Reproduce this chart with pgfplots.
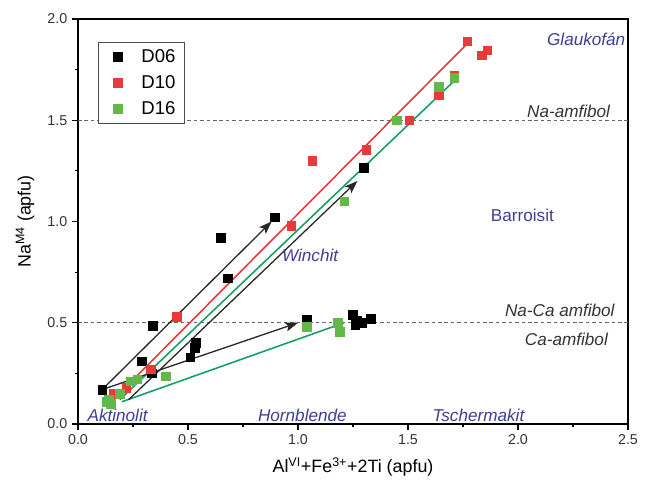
\documentclass[border=0pt]{standalone}
\usepackage{fontspec}
\setmainfont{Liberation Sans}
\usepackage{pgfplots}
\pgfplotsset{compat=1.18}
\usetikzlibrary{arrows.meta}
\definecolor{cred}{RGB}{232,58,58}
\definecolor{cgreen}{RGB}{98,184,72}
\definecolor{lgreen}{RGB}{20,160,95}
\definecolor{lblue}{RGB}{62,62,150}
\begin{document}
\begin{tikzpicture}
\begin{axis}[
  scale only axis, width=385pt, height=283.5pt,
  xmin=0, xmax=2.5, ymin=0, ymax=2.0,
  xtick={0,0.5,...,2.5}, ytick={0,0.5,...,2.0},
  minor x tick num=1, minor y tick num=1,
  tick align=outside, xtick pos=bottom, ytick pos=left,
  major tick length=4pt, minor tick length=2pt,
  axis line style={line width=0.9pt}, tick style={line width=0.8pt, black},
  /pgf/number format/assume math mode=true,
  /pgf/number format/.cd, fixed, fixed zerofill, precision=1, /pgfplots/.cd,
  tick label style={font=\fontsize{10}{12}\selectfont, text=black!80},
  xlabel={Al\textsuperscript{VI}+Fe\textsuperscript{3+}+2Ti (apfu)},
  ylabel={Na\textsuperscript{M4} (apfu)},
  label style={font=\fontsize{12.5}{14}\selectfont},
  xlabel style={at={(axis description cs:0.5,0)}, anchor=center, yshift=-30pt},
  ylabel style={at={(axis description cs:0,0.5)}, anchor=center, yshift=37pt},
  legend style={at={(axis cs:0.09,1.886)}, anchor=north west, draw=black!70, line width=0.6pt,
    font=\fontsize{13}{15}\selectfont, row sep=3.5pt, inner xsep=4pt, inner ysep=3pt},
  legend cell align=left,
  legend image code/.code={\path[draw=none,fill=none] (0,0) -- (0.85cm,0); \draw[#1] plot coordinates {(0.35cm,0cm)};},
  clip=false,
]
% dashed boundaries
\addplot[black!60, line width=0.6pt, dash pattern=on 2.5pt off 2pt, forget plot] coordinates {(0,0.5) (2.5,0.5)};
\addplot[black!60, line width=0.6pt, dash pattern=on 2.5pt off 2pt, forget plot] coordinates {(0,1.5) (2.5,1.5)};
% trend lines
\addplot[cred, line width=1.1pt, forget plot] coordinates {(0.16,0.12) (1.78,1.89)};
\addplot[lgreen, line width=1.1pt, forget plot] coordinates {(0.19,0.12) (1.73,1.715)};
\addplot[lgreen, line width=1.1pt, forget plot] coordinates {(0.2,0.11) (1.21,0.5)};
% arrows
\addplot[black!85, line width=0.9pt, -{Stealth[length=9pt,width=6.5pt,inset=2pt]}, forget plot] coordinates {(0.11,0.17) (0.88,1.0)};
\addplot[black!85, line width=0.9pt, -{Stealth[length=9pt,width=6.5pt,inset=2pt]}, forget plot] coordinates {(0.23,0.12) (1.27,1.2)};
\addplot[black!85, line width=0.9pt, -{Stealth[length=9pt,width=6.5pt,inset=2pt]}, forget plot] coordinates {(0.11,0.17) (1.0,0.5)};
% data
\addplot[only marks, mark=square*, mark size=3pt, black, mark options={fill=black, draw=black}] coordinates {
(0.11,0.17) (0.29,0.31) (0.34,0.485) (0.335,0.25) (0.51,0.33) (0.535,0.40) (0.53,0.375)
(0.65,0.92) (0.68,0.72) (0.895,1.02) (1.04,0.515) (1.25,0.54) (1.26,0.49) (1.27,0.51)
(1.29,0.50) (1.33,0.52) (1.30,1.265)};
\addlegendentry{D06}
\addplot[only marks, mark=square*, mark size=3pt, cred, mark options={fill=cred, draw=cred}] coordinates {
(0.16,0.15) (0.22,0.18) (0.33,0.27) (0.45,0.53) (0.97,0.98) (1.065,1.30) (1.31,1.355)
(1.505,1.50) (1.64,1.625) (1.71,1.72) (1.77,1.89) (1.835,1.82) (1.86,1.845)};
\addlegendentry{D10}
\addplot[only marks, mark=square*, mark size=3pt, cgreen, mark options={fill=cgreen, draw=cgreen}] coordinates {
(0.13,0.11) (0.15,0.10) (0.14,0.12) (0.19,0.15) (0.24,0.21) (0.27,0.22) (0.40,0.235)
(1.04,0.48) (1.18,0.50) (1.19,0.455) (1.21,1.10) (1.45,1.50) (1.64,1.665) (1.71,1.71)};
\addlegendentry{D16}
% labels
\begin{scope}[every node/.style={font=\itshape\fontsize{12}{14}\selectfont}]
\node[text=lblue] at (axis cs:2.31,1.9) {Glaukofán};
\node[text=lblue] at (axis cs:1.055,0.835) {Winchit};
\node[text=lblue, font=\fontsize{12}{14}\selectfont] at (axis cs:2.02,1.03) {Barroisit};
\node[text=lblue] at (axis cs:0.18,0.045) {Aktinolit};
\node[text=lblue] at (axis cs:1.02,0.045) {Hornblende};
\node[text=lblue] at (axis cs:1.82,0.045) {Tschermakit};
\node[text=black!80] at (axis cs:2.23,1.545) {Na-amfibol};
\node[text=black!80] at (axis cs:2.19,0.56) {Na-Ca amfibol};
\node[text=black!80] at (axis cs:2.22,0.42) {Ca-amfibol};
\end{scope}
\end{axis}
\pgfresetboundingbox
\path[use as bounding box] ([shift={(-54.6pt,-44.1pt)}]current axis.south west) rectangle ([shift={(16.1pt,13.3pt)}]current axis.north east);
\end{tikzpicture}
\end{document}
